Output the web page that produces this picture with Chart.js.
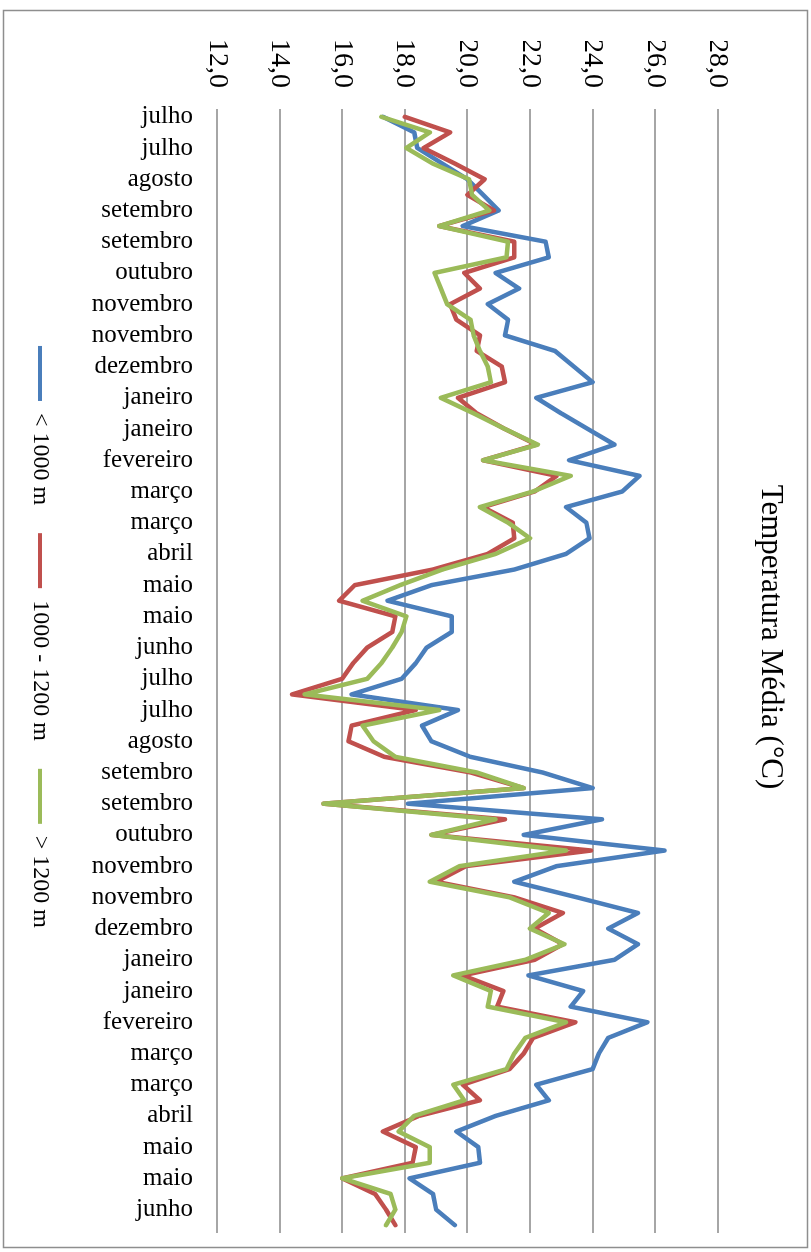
<!DOCTYPE html>
<html lang="pt">
<head>
<meta charset="utf-8">
<title>Temperatura Média (°C)</title>
<script src="https://cdn.jsdelivr.net/npm/chart.js@4.4.1/dist/chart.umd.min.js"></script>
<style>
  html, body { margin: 0; padding: 0; background: #fff; overflow: hidden; }
  #wrap {
    position: absolute; left: 0; top: 0;
    width: 1252px; height: 811px;
    transform-origin: 0 0;
    transform: translate(811px, 0) rotate(90deg);
  }
  #c { display: block; }
</style>
</head>
<body>
<div id="wrap"><canvas id="c" width="1252" height="811"></canvas></div>
<script>
// Months covered, one entry per month; each month has three ten-day periods.
const months = ['julho', 'agosto', 'setembro', 'outubro', 'novembro', 'dezembro',
  'janeiro', 'fevereiro', 'março', 'abril', 'maio', 'junho',
  'julho', 'agosto', 'setembro', 'outubro', 'novembro', 'dezembro',
  'janeiro', 'fevereiro', 'março', 'abril', 'maio', 'junho'];
const periodsPerMonth = 3;
const categories = months.flatMap(m => Array(periodsPerMonth).fill(m));

// Mean temperature (°C) per ten-day period, by altitude class.
const below1000 = [
  17.3, 18.3, 18.4, 19.2, 20.0, 20.5, 21.0, 19.85, 22.5, 22.6, 20.9, 21.65,
  20.65, 21.3, 21.2, 22.8, 23.4, 24.0, 22.2, 23.0, 23.85, 24.7, 23.25, 25.5,
  24.95, 23.15, 23.8, 23.9, 23.15, 21.5, 18.85, 17.45, 19.5, 19.5, 18.7, 18.35,
  17.9, 16.3, 19.7, 18.55, 18.85, 20.1, 22.4, 24.0, 18.1, 24.3, 21.8, 26.3,
  22.85, 21.5, 23.5, 25.45, 24.5, 25.45, 24.7, 21.95, 23.7, 23.3, 25.75, 24.5,
  24.2, 24.0, 22.2, 22.6, 20.9, 19.65, 20.35, 20.4, 18.15, 18.9, 19.0, 19.6
];
const from1000to1200 = [
  18.0, 19.45, 18.6, 19.6, 20.55, 20.0, 20.85, 19.1, 21.5, 21.5, 19.9, 20.4,
  19.45, 19.65, 20.4, 20.3, 21.1, 21.2, 19.7, 20.3, 21.2, 22.2, 20.5, 22.85,
  22.15, 20.5, 21.45, 21.5, 20.65, 18.9, 16.4, 15.9, 17.7, 17.6, 16.8, 16.35,
  16.0, 14.4, 18.35, 16.3, 16.2, 17.35, 20.1, 21.8, 15.4, 21.2, 18.85, 23.95,
  19.95, 19.0, 21.5, 23.05, 22.15, 23.05, 22.15, 19.85, 21.15, 20.95, 23.45, 22.1,
  21.8, 21.35, 19.85, 20.4, 18.45, 17.3, 18.35, 18.25, 16.0, 17.05, 17.4, 17.7
];
const above1200 = [
  17.25, 18.8, 18.05, 18.9, 20.05, 20.15, 20.7, 19.1, 21.3, 21.25, 18.95, 19.15,
  19.35, 20.1, 20.2, 20.4, 20.65, 20.75, 19.15, 20.2, 21.2, 22.25, 20.5, 23.3,
  22.1, 20.4, 21.3, 22.0, 20.9, 19.2, 17.85, 16.65, 18.05, 17.9, 17.6, 17.25,
  16.8, 14.8, 19.1, 16.65, 17.0, 17.7, 20.3, 21.8, 15.4, 20.9, 18.85, 23.15,
  19.75, 18.8, 21.35, 22.6, 22.0, 23.1, 21.85, 19.55, 20.75, 20.65, 23.15, 21.85,
  21.5, 21.25, 19.55, 19.9, 18.3, 17.8, 18.8, 18.8, 16.0, 17.55, 17.7, 17.4
];

const seriesNames = ['< 1000 m', '1000 - 1200 m', '> 1200 m'];
const seriesColors = ['#4a7ebb', '#c0504d', '#9bbb59'];
const axisMin = 12, axisMax = 28, axisStep = 2;
const titleText = 'Temperatura Média (°C)';

const serif = 'Liberation Serif, Times New Roman, serif';

// Outer frame around the whole chart.
const framePlugin = {
  id: 'frame',
  beforeDraw(chart) {
    const c = chart.ctx;
    c.save();
    c.fillStyle = '#fff';
    c.fillRect(0, 0, chart.width, chart.height);
    c.strokeStyle = '#8e8e8e';
    c.lineWidth = 1.5;
    c.strokeRect(10.5, 3.5, 1237, 804);
    c.restore();
  }
};

const seriesData = [below1000, from1000to1200, above1200];

new Chart(document.getElementById('c'), {
  type: 'line',
  data: {
    labels: categories,
    datasets: seriesData.map((d, i) => ({
      label: seriesNames[i],
      data: d,
      borderColor: seriesColors[i],
      backgroundColor: seriesColors[i],
      borderWidth: 4.5,
      pointRadius: 0,
      tension: 0,
      borderJoinStyle: 'round',
      borderCapStyle: 'round',
      fill: false,
      order: 2 - i
    }))
  },
  options: {
    responsive: false,
    animation: false,
    devicePixelRatio: 1,
    layout: { padding: { left: 41, right: 19, top: 12, bottom: 18 } },
    plugins: {
      title: {
        display: true,
        text: titleText,
        color: '#000',
        font: { family: serif, size: 31, weight: 'normal' },
        padding: { top: 10, bottom: 34 }
      },
      legend: {
        position: 'bottom',
        labels: {
          boxWidth: 55,
          boxHeight: 4,
          padding: 28,
          color: '#000',
          font: { family: serif, size: 24 },
          sort: (a, b) => a.datasetIndex - b.datasetIndex,
          generateLabels: (chart) =>
            Chart.defaults.plugins.legend.labels.generateLabels(chart)
              .map(l => Object.assign(l, { lineWidth: 0, fillStyle: l.strokeStyle }))
        }
      },
      tooltip: { enabled: false }
    },
    scales: {
      x: {
        type: 'category',
        offset: true,
        grid: { display: false, drawTicks: false },
        border: { display: false },
        ticks: {
          autoSkip: false,
          minRotation: 90,
          maxRotation: 90,
          padding: 24,
          color: '#000',
          font: { family: serif, size: 25 },
          callback: (v, i) => (i % 2 === 0 ? categories[i] : null)
        },
        afterFit: (s) => {
          s.height = 137;
          s.paddingLeft = 0;
          s.paddingRight = 0;
        }
      },
      y: {
        min: axisMin,
        max: axisMax,
        grid: { color: '#a6a6a6', lineWidth: 2, drawTicks: false },
        border: { display: false },
        ticks: {
          stepSize: axisStep,
          padding: 21,
          color: '#000',
          font: { family: serif, size: 28 },
          callback: (v) => v.toFixed(1).replace('.', ',')
        },
        afterFit: (s) => { s.width = 68; }
      }
    }
  },
  plugins: [framePlugin]
});
</script>
</body>
</html>
